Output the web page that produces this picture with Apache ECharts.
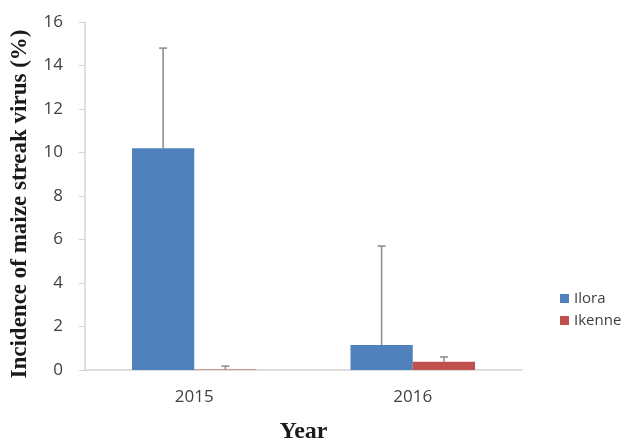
<!DOCTYPE html>
<html>
<head>
<meta charset="utf-8">
<script src="https://cdn.jsdelivr.net/npm/echarts@6/dist/echarts.min.js"></script>
<style>
  html, body { margin: 0; padding: 0; background: #fff; }
  #chart { width: 636px; height: 445px; }
</style>
</head>
<body>
<div id="chart"></div>
<script>
const years = ['2015', '2016'];
const seriesNames = ['Ilora', 'Ikenne'];
const iloraValues = [10.2, 1.15];
const ikenneValues = [0.02, 0.38];
// upper end of each error bar
const iloraUpper = [14.8, 5.7];
const ikenneUpper = [0.18, 0.6];
const yTicks = [0, 2, 4, 6, 8, 10, 12, 14, 16];

const colors = ['#4F81BD', '#C0504D'];
const catGap = 0.43;

function errorSeries(name, upper, values, side) {
  return {
    name: name,
    type: 'custom',
    z: 5,
    silent: true,
    data: upper.map((u, i) => [i, values[i], u]),
    renderItem: (params, api) => {
      const band = api.size([1, 0])[0];
      const barW = (band * (1 - catGap)) / 2;
      const base = api.coord([api.value(0), api.value(1)]);
      const top = api.coord([api.value(0), api.value(2)]);
      const x = base[0] + side * barW / 2;
      const style = { stroke: '#8f8f8f', lineWidth: 1.6 };
      return {
        type: 'group',
        children: [
          { type: 'line', shape: { x1: x, y1: base[1], x2: x, y2: top[1] }, style: style },
          { type: 'line', shape: { x1: x - 4, y1: top[1], x2: x + 4, y2: top[1] }, style: style },
        ],
      };
    },
  };
}

const chart = echarts.init(document.getElementById('chart'));
chart.setOption({
  animation: false,
  color: colors,
  grid: { left: 85, right: 114, top: 22, bottom: 75, containLabel: false, outerBoundsMode: 'none' },
  legend: {
    data: seriesNames,
    orient: 'vertical',
    left: 555,
    top: 286,
    itemWidth: 9,
    itemHeight: 9,
    itemGap: 7,
    icon: 'rect',
    textStyle: { fontFamily: 'Open Sans', fontSize: 15, color: '#404040' },
  },
  xAxis: {
    type: 'category',
    data: years,
    name: 'Year',
    nameLocation: 'middle',
    nameGap: 50,
    nameTextStyle: { fontFamily: 'Liberation Serif', fontWeight: 'bold', fontSize: 24, color: '#1a1a1a' },
    axisLine: { lineStyle: { color: '#d4d4d4', width: 1.5 } },
    axisTick: { show: false },
    axisLabel: { fontFamily: 'Open Sans', fontSize: 17, color: '#404040', margin: 19 },
  },
  yAxis: {
    type: 'value',
    min: 0,
    max: 16,
    interval: 2,
    name: 'Incidence of maize streak virus (%)',
    nameLocation: 'middle',
    nameGap: 53,
    nameTextStyle: {
      fontFamily: 'Liberation Serif',
      fontWeight: 'bold',
      fontSize: 23,
      color: '#1a1a1a',
      padding: [0, 16, 0, 0],
    },
    axisLine: { show: true, lineStyle: { color: '#d4d4d4', width: 1.5 } },
    axisTick: { show: true, length: 6, lineStyle: { color: '#d4d4d4' } },
    splitLine: { show: false },
    axisLabel: {
      fontFamily: 'Open Sans',
      fontSize: 17,
      color: '#404040',
      margin: 22,
      formatter: (v) => (yTicks.indexOf(v) >= 0 ? String(v) : ''),
    },
  },
  series: [
    { name: 'Ilora', type: 'bar', data: iloraValues, barGap: '0%', barCategoryGap: catGap * 100 + '%' },
    { name: 'Ikenne', type: 'bar', data: ikenneValues, barGap: '0%', barCategoryGap: catGap * 100 + '%' },
    errorSeries('Ilora err', iloraUpper, iloraValues, -1),
    errorSeries('Ikenne err', ikenneUpper, ikenneValues, 1),
  ],
});
</script>
</body>
</html>
